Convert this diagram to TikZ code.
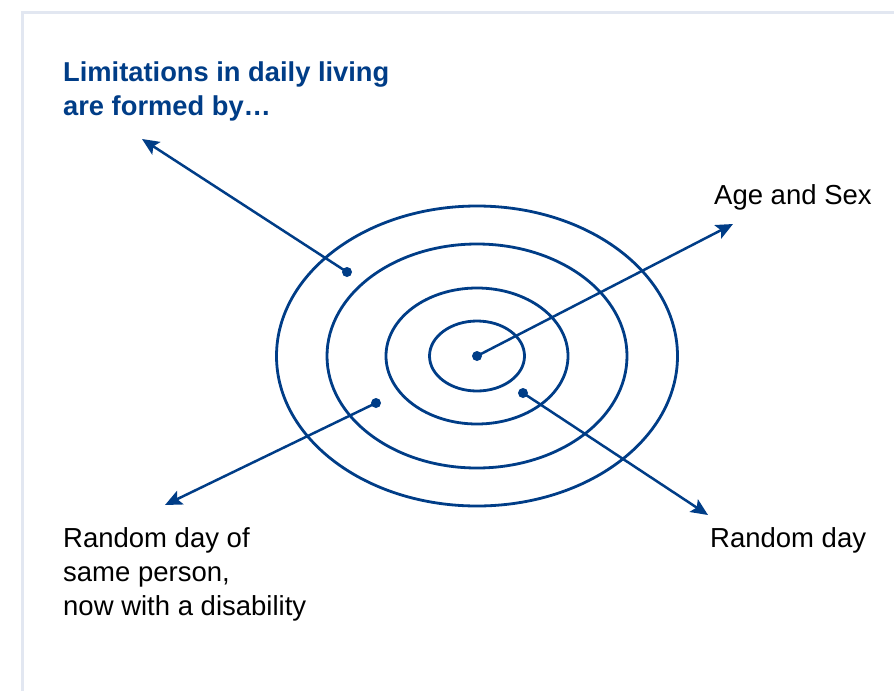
\documentclass[tikz,border=0pt]{standalone}
\usepackage{fontspec}
\setmainfont{Liberation Sans}
\usetikzlibrary{arrows.meta}
\definecolor{navy}{RGB}{0,61,135}
\definecolor{panelline}{RGB}{226,231,241}
\tikzset{
  ring/.style={draw=navy, line width=2.8pt},
  pointer/.style={draw=navy, line width=2.5pt, -{Stealth[length=17pt,width=15pt,inset=3.5pt]}},
  dotmark/.style={fill=navy},
  lbl/.style={inner sep=0pt, font=\fontsize{27.5}{34}\selectfont, text=black, align=left, anchor=base west},
  ttl/.style={inner sep=0pt, font=\fontsize{27.3}{34}\selectfont\bfseries, text=navy, align=left, anchor=base west}
}
\begin{document}
\begin{tikzpicture}[x=1pt,y=-1pt]
\useasboundingbox (0,0) rectangle (894,691);
\fill[white] (0,0) rectangle (894,691);
\draw[panelline, line width=3pt] (22,691) -- (22,12) -- (894,12);
% rings
\coordinate (c) at (477,356);
\draw[ring] (c) ellipse [x radius=200.5, y radius=150];
\draw[ring] (c) ellipse [x radius=150, y radius=112];
\draw[ring] (c) ellipse [x radius=91, y radius=68];
\draw[ring] (c) ellipse [x radius=47.5, y radius=35];
% dots
\coordinate (d1) at (477,356);
\coordinate (d2) at (347,272);
\coordinate (d3) at (376,403);
\coordinate (d4) at (523,393);
\coordinate (t1) at (733,224);
\coordinate (t2) at (142,139);
\coordinate (t3) at (165,505);
\coordinate (t4) at (708,515);
\draw[pointer] (d1) -- (t1);
\draw[pointer] (d2) -- (t2);
\draw[pointer] (d3) -- (t3);
\draw[pointer] (d4) -- (t4);
\foreach \d in {d1,d2,d3,d4} \fill[dotmark] (\d) circle (5pt);
% labels
\node[ttl] (title) at (63,115) {Limitations in daily living\\are formed by…};
\node[lbl] (age) at (714,204) {Age and Sex};
\node[lbl] (rday) at (710,547) {Random day};
\node[lbl] (rdis) at (63,615) {Random day of\\same person,\\now with a disability};
\end{tikzpicture}
\end{document}
